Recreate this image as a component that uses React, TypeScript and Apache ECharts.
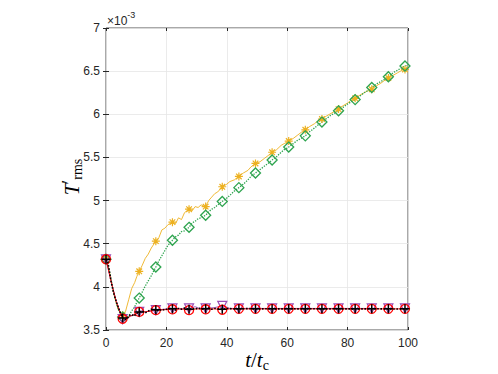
import React, { useEffect, useRef } from "react";
import * as echarts from "echarts";

// values in units of 1e-3
const tLine = [0, 1, 2, 3, 4, 5.5, 6.5, 7.5, 8.5, 9.5, 10.2, 11, 12, 13, 14, 15, 16.5, 17.5, 18.5, 19.5, 20.5, 22, 23, 24, 25, 26, 27.5, 28.5, 29.5, 30.5, 31.5, 33, 34, 35, 36, 37, 38.5, 40, 41, 42.5, 44, 45.5, 47, 48, 49.5, 51, 52.5, 54, 55, 56.5, 58, 59, 60.5, 62, 63.5, 65, 66, 67.5, 69, 70, 71.5, 73, 74.5, 76, 77, 78.5, 80, 81, 82.5, 84, 85.5, 87, 88, 89.5, 91, 92.5, 93.5, 95, 96.5, 98, 99, 100];
const orangeLine = [4.32, 4.2, 4.02, 3.86, 3.74, 3.67, 3.72, 3.85, 3.98, 4.05, 4.12, 4.18, 4.25, 4.33, 4.38, 4.45, 4.53, 4.57, 4.66, 4.68, 4.72, 4.75, 4.73, 4.8, 4.78, 4.86, 4.9, 4.88, 4.93, 4.92, 4.95, 4.93, 5.0, 5.04, 5.08, 5.1, 5.16, 5.19, 5.22, 5.24, 5.28, 5.32, 5.35, 5.39, 5.43, 5.45, 5.49, 5.53, 5.56, 5.59, 5.64, 5.66, 5.69, 5.72, 5.76, 5.8, 5.82, 5.86, 5.89, 5.92, 5.945, 5.98, 6.01, 6.04, 6.06, 6.1, 6.13, 6.16, 6.185, 6.22, 6.25, 6.28, 6.29, 6.33, 6.36, 6.4, 6.42, 6.45, 6.48, 6.51, 6.52, 6.535];
const greenLine = [4.32, 4.2, 4.03, 3.87, 3.74, 3.65, 3.62, 3.66, 3.72, 3.77, 3.82, 3.87, 3.94, 4.01, 4.07, 4.13, 4.23, 4.3, 4.36, 4.42, 4.48, 4.54, 4.58, 4.6, 4.64, 4.65, 4.69, 4.74, 4.76, 4.79, 4.8, 4.83, 4.87, 4.9, 4.92, 4.95, 4.99, 5.03, 5.06, 5.11, 5.15, 5.19, 5.24, 5.28, 5.32, 5.36, 5.4, 5.44, 5.47, 5.51, 5.56, 5.59, 5.62, 5.66, 5.7, 5.73, 5.75, 5.8, 5.84, 5.87, 5.91, 5.95, 5.99, 6.02, 6.04, 6.08, 6.12, 6.14, 6.17, 6.21, 6.25, 6.28, 6.31, 6.35, 6.38, 6.41, 6.435, 6.48, 6.51, 6.54, 6.56, 6.57];

const tBlack = [0, 0.6, 1.7, 2.5, 3.4, 4.2, 4.9, 5.5, 6.2, 7, 7.8, 8.5, 9.3, 10, 11, 12, 13, 14, 15, 16.5, 17.5, 18.5, 19.5, 20.5, 22, 23, 24, 25, 26, 27.5, 28.5, 29.5, 30.5, 31.5, 33, 34, 35, 36, 37, 38.5, 40, 42, 44, 47, 50, 53, 56, 60, 64, 68, 72, 76, 80, 84, 88, 92, 96, 100];
const blackLine = [4.32, 4.29, 4.06, 3.93, 3.83, 3.75, 3.69, 3.64, 3.62, 3.63, 3.67, 3.68, 3.66, 3.69, 3.71, 3.72, 3.7, 3.72, 3.74, 3.735, 3.72, 3.74, 3.73, 3.75, 3.745, 3.73, 3.75, 3.74, 3.755, 3.74, 3.75, 3.74, 3.755, 3.745, 3.745, 3.755, 3.74, 3.75, 3.745, 3.74, 3.75, 3.745, 3.745, 3.748, 3.743, 3.747, 3.744, 3.746, 3.745, 3.747, 3.744, 3.746, 3.745, 3.744, 3.746, 3.745, 3.744, 3.745];

const tRed = [0, 1.7, 3.4, 4.9, 5.5, 6.5, 8, 9.5, 11, 13, 16.5, 19, 22, 25, 27.5, 30, 33, 36, 38.5, 41, 44, 50, 60, 70, 80, 90, 100];
const redLine = [4.32, 4.06, 3.83, 3.68, 3.63, 3.62, 3.66, 3.68, 3.71, 3.71, 3.73, 3.735, 3.74, 3.745, 3.73, 3.745, 3.74, 3.745, 3.735, 3.745, 3.745, 3.745, 3.745, 3.745, 3.745, 3.745, 3.745];

const tPurple = [0, 1.7, 3.4, 4.9, 5.5, 6.5, 8, 9.5, 11, 13, 16.5, 19, 22, 25, 27.5, 29.5, 31, 33, 36, 38.5, 41, 44, 50, 60, 70, 80, 90, 100];
const purpleLine = [4.32, 4.06, 3.83, 3.68, 3.625, 3.62, 3.66, 3.68, 3.71, 3.71, 3.73, 3.74, 3.75, 3.745, 3.75, 3.77, 3.75, 3.75, 3.76, 3.78, 3.75, 3.75, 3.75, 3.75, 3.75, 3.75, 3.75];

const tMark = [0, 5.5, 11, 16.5, 22, 27.5, 33, 38.5, 44, 49.5, 55, 60.5, 66, 71.5, 77, 82.5, 88, 93.5, 99];
const orangeMark = [4.32, 3.67, 4.18, 4.53, 4.75, 4.9, 4.93, 5.16, 5.28, 5.43, 5.56, 5.69, 5.82, 5.945, 6.06, 6.185, 6.29, 6.42, 6.52];
const greenMark = [4.32, 3.65, 3.87, 4.23, 4.54, 4.69, 4.83, 4.99, 5.15, 5.32, 5.47, 5.62, 5.75, 5.91, 6.04, 6.17, 6.31, 6.435, 6.56];
const redMark = [4.32, 3.63, 3.71, 3.73, 3.74, 3.73, 3.74, 3.735, 3.745, 3.745, 3.745, 3.745, 3.745, 3.745, 3.745, 3.745, 3.745, 3.745, 3.745];
const purpleMark = [4.32, 3.625, 3.71, 3.73, 3.75, 3.75, 3.75, 3.78, 3.75, 3.75, 3.75, 3.75, 3.75, 3.75, 3.75, 3.75, 3.75, 3.75, 3.75];
const blackMark = [4.32, 3.64, 3.71, 3.735, 3.745, 3.74, 3.745, 3.74, 3.745, 3.745, 3.745, 3.745, 3.745, 3.745, 3.745, 3.745, 3.745, 3.745, 3.745];

const xTicks = [0, 20, 40, 60, 80, 100];
const yTicks = [3.5, 4, 4.5, 5, 5.5, 6, 6.5, 7];

const C_ORANGE = "#EDB120";
const C_GREEN = "#2EA44F";
const C_RED = "#FF0000";
const C_PURPLE = "#9B4DB5";
const C_BLACK = "#000000";

const zip = (t: number[], v: number[]) => t.map((x, i) => [x, v[i]]);

const ASTERISK = "path://M0,-1L0,1M-1,0L1,0M-0.7,-0.7L0.7,0.7M-0.7,0.7L0.7,-0.7";
const PLUS = "path://M0,-1L0,1M-1,0L1,0";

export default function App() {
  const ref = useRef<HTMLDivElement>(null);
  useEffect(() => {
    if (!ref.current) return;
    const chart = echarts.init(ref.current, null, { renderer: "svg" });
    const axisText = { color: "#262626", fontSize: 12, fontFamily: "Liberation Sans, Arial, sans-serif" };
    const lineSeries = (name: string, t: number[], v: number[], color: string, type: string, width: number, z: number) => ({
      name, type: "line", data: zip(t, v), showSymbol: false, symbol: "none", z,
      lineStyle: { color, width, type }, silent: true,
    });
    const markSeries = (name: string, v: number[], color: string, symbol: string, size: number, bw: number, z: number, rotate = 0) => ({
      name, type: "scatter", data: zip(tMark, v), symbol, symbolSize: size, symbolRotate: rotate, z,
      itemStyle: { color: "rgba(0,0,0,0)", borderColor: color, borderWidth: bw, opacity: 1 }, silent: true,
    });
    chart.setOption({
      animation: false,
      grid: { left: 106, top: 28, width: 302, height: 302, show: true, borderColor: "#262626", borderWidth: 0.8, backgroundColor: "#fff" },
      xAxis: [
        {
          type: "value", min: 0, max: 100, interval: 20, position: "bottom",
          axisLine: { show: false }, axisTick: { show: true, inside: true, length: 3, lineStyle: { color: "#262626" } },
          axisLabel: { ...axisText, margin: 7 },
          splitLine: { show: true, lineStyle: { color: "#e6e6e6", width: 0.8 } },
        },
        {
          type: "value", min: 0, max: 100, interval: 20, position: "top",
          axisLine: { show: false }, axisTick: { show: true, inside: true, length: 3, lineStyle: { color: "#262626" } },
          axisLabel: { show: false }, splitLine: { show: false },
        },
      ],
      yAxis: [
        {
          type: "value", min: 3.5, max: 7, interval: 0.5, position: "left",
          axisLine: { show: false }, axisTick: { show: true, inside: true, length: 3, lineStyle: { color: "#262626" } },
          axisLabel: { ...axisText, margin: 6, formatter: (v: number) => (yTicks.includes(v) ? String(v) : "") },
          splitLine: { show: true, lineStyle: { color: "#e6e6e6", width: 0.8 } },
        },
        {
          type: "value", min: 3.5, max: 7, interval: 0.5, position: "right",
          axisLine: { show: false }, axisTick: { show: true, inside: true, length: 3, lineStyle: { color: "#262626" } },
          axisLabel: { show: false }, splitLine: { show: false },
        },
      ],
      series: [
        lineSeries("orange", tLine, orangeLine, C_ORANGE, "solid", 0.9, 2),
        lineSeries("green", tLine, greenLine, C_GREEN, "dotted", 1.3, 3),
        markSeries("orangeM", orangeMark, C_ORANGE, ASTERISK, 8, 1.2, 4),
        markSeries("greenM", greenMark, C_GREEN, "diamond", 10, 1.3, 5),
        lineSeries("purple", tPurple, purpleLine, C_PURPLE, "solid", 0.9, 6),
        lineSeries("red", tRed, redLine, C_RED, "solid", 0.9, 7),
        markSeries("purpleM", purpleMark, C_PURPLE, "triangle", 9, 1.2, 8, 180),
        markSeries("redM", redMark, C_RED, "circle", 9, 1.3, 9),
        lineSeries("black", tBlack, blackLine, C_BLACK, "dotted", 1.6, 10),
        markSeries("blackM", blackMark, C_BLACK, PLUS, 9, 1.5, 11),
      ],
      graphic: [
        {
          type: "text", left: 107, top: 10, z: 20,
          style: {
            text: "{a|×10}{b|-3}",
            rich: {
              a: { fontSize: 12, fill: "#262626", fontFamily: "Liberation Sans, Arial, sans-serif", verticalAlign: "bottom" },
              b: { fontSize: 9, fill: "#262626", fontFamily: "Liberation Sans, Arial, sans-serif", verticalAlign: "top", padding: [0, 0, 8, 0] },
            },
          },
        },
        {
          type: "text", x: 257, y: 360, z: 20,
          style: {
            text: "{i|t}{n|/}{i|t}{s|c}",
            align: "center", verticalAlign: "middle",
            rich: {
              i: { fontSize: 21, fontStyle: "italic", fontFamily: "Liberation Serif, Times New Roman, serif", fill: "#000" },
              n: { fontSize: 21, fontFamily: "Liberation Serif, Times New Roman, serif", fill: "#000" },
              s: { fontSize: 14, fontFamily: "Liberation Serif, Times New Roman, serif", fill: "#000", padding: [10, 0, 0, 0] },
            },
          },
        },
        {
          type: "text", x: 72, y: 177, rotation: Math.PI / 2, z: 20,
          style: {
            text: "{i|T}{p|′}{s|rms}",
            align: "center", verticalAlign: "middle",
            rich: {
              i: { fontSize: 21, fontStyle: "italic", fontFamily: "Liberation Serif, Times New Roman, serif", fill: "#000" },
              p: { fontSize: 18, fontFamily: "Liberation Serif, Times New Roman, serif", fill: "#000", padding: [0, 0, 6, 0] },
              s: { fontSize: 14, fontFamily: "Liberation Serif, Times New Roman, serif", fill: "#000", padding: [10, 0, 0, 0] },
            },
          },
        },
      ],
    });
    return () => chart.dispose();
  }, []);
  return <div ref={ref} style={{ width: 498, height: 374, position: "absolute", left: 0, top: 0, background: "#fff" }} />;
}
